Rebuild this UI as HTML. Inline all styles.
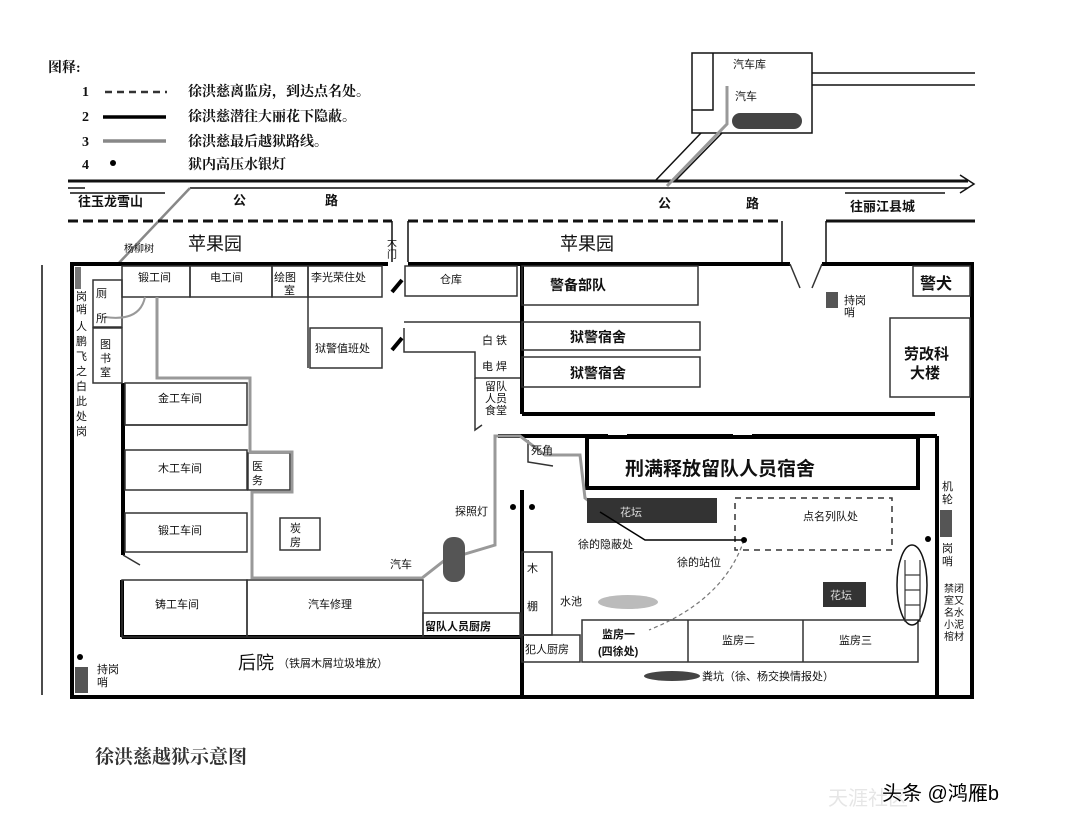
<!DOCTYPE html>
<html><head><meta charset="utf-8"><style>
html,body{margin:0;padding:0;background:#fff}
svg{display:block}
text{font-family:"Liberation Sans","Noto Sans CJK SC",sans-serif}
.s{font-family:"Liberation Serif","Noto Serif CJK SC",serif;font-weight:bold}
.b{font-weight:bold}
</style></head><body>
<svg width="1066" height="828" viewBox="0 0 1066 828" xmlns="http://www.w3.org/2000/svg" fill="#111">
<rect width="1066" height="828" fill="#fff"/>
<g class="s" font-size="14">
<text x="48" y="72" class="s">图释:</text>
<text x="82" y="96" class="s">1</text><text x="82" y="121" class="s">2</text><text x="82" y="146" class="s">3</text><text x="82" y="169" class="s">4</text>
<text x="188" y="96" class="s">徐洪慈离监房，到达点名处。</text>
<text x="188" y="121" class="s">徐洪慈潜往大丽花下隐蔽。</text>
<text x="188" y="146" class="s">徐洪慈最后越狱路线。</text>
<text x="188" y="169" class="s">狱内高压水银灯</text>
</g>
<line x1="105" y1="92" x2="167" y2="92" stroke="#333" stroke-width="2.5" stroke-dasharray="7,5"/>
<line x1="103" y1="117" x2="166" y2="117" stroke="#000" stroke-width="3.5"/>
<line x1="103" y1="141" x2="166" y2="141" stroke="#888" stroke-width="3.5"/>
<circle cx="113" cy="163" r="3" fill="#000"/>
<g stroke="#111" fill="none">
<line x1="68" y1="181" x2="968" y2="181" stroke-width="3"/>
<line x1="190" y1="188" x2="968" y2="188" stroke-width="1.5"/>
<line x1="68" y1="188" x2="85" y2="188" stroke-width="1.5"/>
<line x1="70" y1="193" x2="165" y2="193" stroke-width="1.5"/>
<line x1="845" y1="193" x2="945" y2="193" stroke-width="1.5"/>
<polyline points="960,175 974,184 960,193" stroke-width="1.5"/>
<rect x="692" y="53" width="120" height="80" stroke-width="1.5"/>
<polyline points="692,110 713,110 713,53" stroke-width="1.5"/>
<line x1="812" y1="73" x2="975" y2="73" stroke-width="1.5"/>
<line x1="812" y1="85" x2="975" y2="85" stroke-width="1.5"/>
<line x1="701" y1="133" x2="655" y2="181" stroke-width="1.5"/>
<line x1="722" y1="133" x2="675" y2="181" stroke-width="1.5"/>
</g>
<polyline points="727,86 727,124 667,186" stroke="#999" stroke-width="3" fill="none"/>
<polyline points="117,265 190,188" stroke="#888" stroke-width="2.5" fill="none"/>
<rect x="732" y="113" width="70" height="16" rx="8" fill="#444"/>
<text x="735" y="100" font-size="11">汽车</text>
<text x="733" y="68" font-size="11">汽车库</text>
<text x="78" y="206" font-size="13" class="b">往玉龙雪山</text>
<text x="233" y="205" font-size="13" class="b">公</text><text x="325" y="205" font-size="13" class="b">路</text>
<text x="658" y="208" font-size="13" class="b">公</text><text x="746" y="208" font-size="13" class="b">路</text>
<text x="850" y="211" font-size="13" class="b">往丽江县城</text>
<g stroke="#111" fill="none" stroke-width="3">
<line x1="68" y1="221" x2="392" y2="221" stroke-dasharray="10,5"/>
<line x1="408" y1="221" x2="782" y2="221" stroke-dasharray="10,5"/>
<line x1="826" y1="221" x2="975" y2="221"/>
</g>
<g stroke="#111" stroke-width="1.5" fill="none">
<line x1="392" y1="221" x2="392" y2="262"/><line x1="408" y1="221" x2="408" y2="262"/>
<line x1="782" y1="221" x2="782" y2="262"/><line x1="826" y1="221" x2="826" y2="262"/>
<line x1="42" y1="265" x2="42" y2="695"/>
</g>
<text x="188" y="250" font-size="18">苹果园</text>
<text x="560" y="250" font-size="18">苹果园</text>
<text x="124" y="252" font-size="10">杨柳树</text>
<text x="387" y="246" font-size="10">大</text><text x="387" y="258" font-size="10">门</text>
<g stroke="#000" stroke-width="4" fill="none">
<polyline points="388,264 72,264 72,697 972,697 972,264 822,264"/>
<line x1="408" y1="264" x2="790" y2="264"/>
<line x1="522" y1="264" x2="522" y2="414"/>
<line x1="522" y1="414" x2="935" y2="414"/>
<line x1="522" y1="490" x2="522" y2="697"/>
<line x1="937" y1="436" x2="937" y2="697"/>
<line x1="123" y1="383" x2="123" y2="555"/>
<line x1="122" y1="580" x2="122" y2="637"/>
<line x1="122" y1="637" x2="520" y2="637"/>
<line x1="498" y1="436" x2="608" y2="436"/>
<line x1="627" y1="436" x2="733" y2="436"/>
<line x1="752" y1="436" x2="937" y2="436"/>
<rect x="587" y="437" width="331" height="51"/>
<line x1="392" y1="292" x2="402" y2="280"/>
<line x1="392" y1="350" x2="402" y2="338"/>
</g>
<g stroke="#333" stroke-width="1.5" fill="none">
<rect x="122" y="266" width="68" height="31"/><rect x="190" y="266" width="82" height="31"/>
<rect x="272" y="266" width="36" height="31"/><rect x="308" y="266" width="74" height="31"/>
<rect x="310" y="328" width="72" height="40"/><line x1="308" y1="297" x2="308" y2="368"/>
<rect x="405" y="266" width="112" height="30"/>
<polyline points="404,328 404,352 475,352 475,378 520,378"/>
<line x1="404" y1="322" x2="520" y2="322"/>
<polyline points="475,378 475,430 482,425"/>
<rect x="93" y="280" width="29" height="47"/><rect x="93" y="328" width="29" height="55"/>
<rect x="125" y="383" width="122" height="42"/><line x1="125" y1="425" x2="247" y2="425"/>
<rect x="125" y="450" width="122" height="40"/>
<rect x="125" y="513" width="122" height="39"/>
<rect x="248" y="453" width="42" height="37"/>
<rect x="280" y="518" width="40" height="32"/>
<rect x="122" y="580" width="125" height="57"/><rect x="247" y="580" width="176" height="57"/>
<rect x="423" y="613" width="97" height="24"/>
<rect x="522" y="266" width="176" height="39"/>
<rect x="522" y="322" width="178" height="28"/><rect x="522" y="357" width="178" height="30"/>
<rect x="913" y="266" width="57" height="30"/>
<rect x="890" y="318" width="80" height="79"/>
<rect x="522" y="552" width="30" height="83"/><rect x="522" y="635" width="58" height="27"/>
<rect x="582" y="620" width="336" height="42"/><line x1="688" y1="620" x2="688" y2="662"/><line x1="803" y1="620" x2="803" y2="662"/>
<line x1="790" y1="264" x2="800" y2="288"/><line x1="822" y1="264" x2="812" y2="288"/>
<line x1="123" y1="555" x2="140" y2="565"/>
<polyline points="528,440 528,462 553,466"/>
</g>
<polyline points="157,297 157,378 250,378 250,452 292,452 292,492 252,492 252,578 422,578 445,560 495,545 495,436 520,436 545,455 580,455 585,498 600,510" stroke="#999" stroke-width="3" fill="none"/>
<path d="M145,297 q-5,25 -40,20" stroke="#999" stroke-width="2" fill="none"/>
<rect x="587" y="498" width="130" height="25" fill="#333"/>
<rect x="823" y="582" width="43" height="25" fill="#333"/>
<rect x="443" y="537" width="22" height="45" rx="10" fill="#555"/>
<rect x="940" y="510" width="12" height="27" fill="#555"/>
<rect x="826" y="292" width="12" height="16" fill="#555"/>
<rect x="75" y="667" width="13" height="26" fill="#555"/>
<rect x="75" y="267" width="6" height="22" fill="#777"/>
<ellipse cx="628" cy="602" rx="30" ry="7" fill="#bbb"/>
<ellipse cx="672" cy="676" rx="28" ry="5" fill="#444"/>
<rect x="735" y="498" width="157" height="52" fill="none" stroke="#333" stroke-width="1.5" stroke-dasharray="6,5"/>
<ellipse cx="912" cy="585" rx="15" ry="40" fill="none" stroke="#111" stroke-width="1.5"/>
<g stroke="#333" stroke-width="1.2"><line x1="905" y1="560" x2="905" y2="622"/><line x1="920" y1="560" x2="920" y2="622"/>
<line x1="905" y1="575" x2="920" y2="575"/><line x1="905" y1="590" x2="920" y2="590"/><line x1="905" y1="605" x2="920" y2="605"/></g>
<path d="M744,540 q-20,60 -95,90" stroke="#777" stroke-width="1.2" fill="none" stroke-dasharray="4,3"/>
<polyline points="600,512 645,540 742,540" stroke="#000" stroke-width="1.5" fill="none"/>
<circle cx="744" cy="540" r="3" fill="#000"/>
<circle cx="513" cy="507" r="3" fill="#000"/><circle cx="532" cy="507" r="3" fill="#000"/>
<circle cx="80" cy="657" r="3" fill="#000"/><circle cx="928" cy="539" r="3" fill="#000"/>
<g font-size="11">
<text x="138" y="281">锻工间</text><text x="210" y="281">电工间</text>
<text x="274" y="281">绘图</text><text x="284" y="294">室</text>
<text x="311" y="281">李光荣住处</text><text x="315" y="352">狱警值班处</text>
<text x="440" y="283">仓库</text>
<text x="96" y="297">厕</text><text x="96" y="322">所</text>
<text x="100" y="348">图</text><text x="100" y="362">书</text><text x="100" y="376">室</text>
<text x="158" y="402">金工车间</text><text x="158" y="472">木工车间</text><text x="158" y="534">锻工车间</text>
<text x="252" y="470">医</text><text x="252" y="484">务</text>
<text x="290" y="532">炭</text><text x="290" y="546">房</text>
<text x="155" y="608">铸工车间</text><text x="308" y="608">汽车修理</text>
<text x="425" y="630" class="b">留队人员厨房</text>
<text x="482" y="344">白 铁</text><text x="482" y="370">电 焊</text>
<text x="485" y="390">留队</text><text x="485" y="402">人员</text><text x="485" y="414">食堂</text>
<text x="531" y="454">死角</text>
<text x="455" y="515">探照灯</text><text x="390" y="568">汽车</text>
<text x="527" y="572">木</text><text x="527" y="610">棚</text>
<text x="525" y="653">犯人厨房</text>
<text x="560" y="605">水池</text>
<text x="578" y="548">徐的隐蔽处</text><text x="677" y="566">徐的站位</text>
<text x="803" y="520">点名列队处</text>
<text x="620" y="516" style="fill:#ddd">花坛</text><text x="830" y="599" style="fill:#ddd">花坛</text>
<text x="602" y="638" class="b">监房一</text><text x="598" y="655" class="b">(四徐处)</text>
<text x="722" y="644">监房二</text><text x="839" y="644">监房三</text>
<text x="702" y="680">粪坑（徐、杨交换情报处）</text>
<text x="844" y="304">持岗</text><text x="844" y="316">哨</text>
<text x="97" y="673">持岗</text><text x="97" y="686">哨</text>
<text x="942" y="490">机</text><text x="942" y="503">轮</text>
<text x="942" y="552">岗</text><text x="942" y="565">哨</text>
</g>
<g font-size="10"><text x="944" y="592">禁闭</text><text x="944" y="604">室又</text><text x="944" y="616">名水</text><text x="944" y="628">小泥</text><text x="944" y="640">棺材</text></g>
<g font-size="11"><text x="76" y="300">岗</text><text x="76" y="313">哨</text><text x="76" y="330">人</text>
<text x="76" y="345">鹏</text><text x="76" y="360">飞</text><text x="76" y="375">之</text><text x="76" y="390">白</text><text x="76" y="405">此</text><text x="76" y="420">处</text><text x="76" y="435">岗</text></g>
<text x="550" y="290" font-size="14" class="b">警备部队</text>
<text x="570" y="342" font-size="14" class="b">狱警宿舍</text><text x="570" y="378" font-size="14" class="b">狱警宿舍</text>
<text x="920" y="289" font-size="16" class="b">警犬</text>
<text x="904" y="359" font-size="15" class="b">劳改科</text><text x="910" y="378" font-size="15" class="b">大楼</text>
<text x="625" y="475" font-size="19" class="b">刑满释放留队人员宿舍</text>
<text x="238" y="669" font-size="18">后院</text><text x="278" y="667" font-size="11">（铁屑木屑垃圾堆放）</text>
<text x="95" y="763" font-size="19" class="s" style="fill:#333">徐洪慈越狱示意图</text>
<text x="828" y="805" font-size="20" style="fill:#e6e6e6">天涯社区</text>
<text x="882" y="800" font-size="20" style="fill:#000">头条 @鸿雁b</text>
</svg>
</body></html>
